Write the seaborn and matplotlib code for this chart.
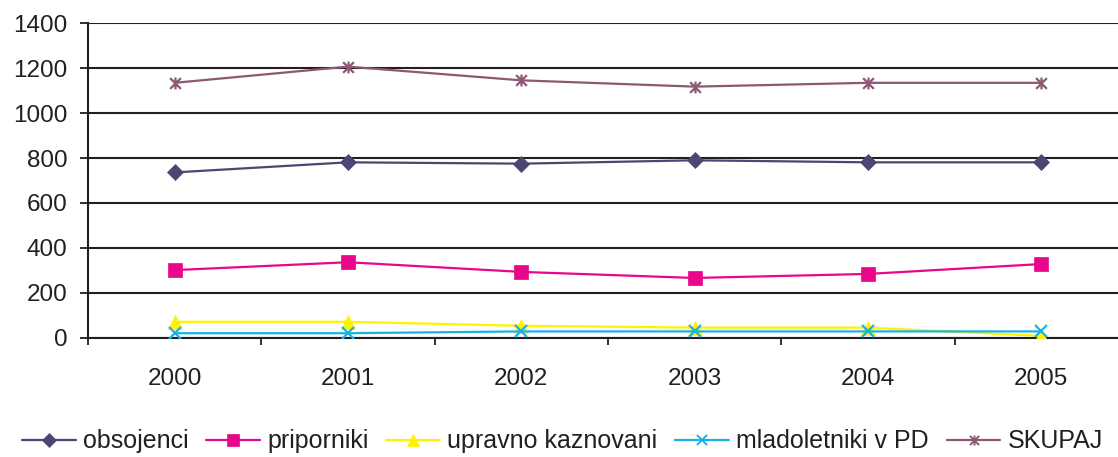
import matplotlib
matplotlib.use("Agg")
import matplotlib.pyplot as plt
from matplotlib.path import Path
from matplotlib.lines import Line2D
import seaborn as sns
import numpy as np

years = ["2000", "2001", "2002", "2003", "2004", "2005"]
obsojenci = [736, 781, 775, 790, 781, 781]
priporniki = [301, 336, 293, 266, 284, 328]
upravno_kaznovani = [71, 71, 53, 45, 45, 8]
mladoletniki_v_pd = [20, 20, 28, 28, 28, 28]
skupaj = [1135, 1207, 1146, 1118, 1135, 1135]

series_names = ["obsojenci", "priporniki", "upravno kaznovani", "mladoletniki v PD", "SKUPAJ"]
series_values = [obsojenci, priporniki, upravno_kaznovani, mladoletniki_v_pd, skupaj]
colors = ["#4a4873", "#e8068a", "#fff200", "#19b2e8", "#8c5873"]

# asterisk marker: vertical bar + X
star = Path([(-0.5, -0.5), (0.5, 0.5), (-0.5, 0.5), (0.5, -0.5), (0, -0.55), (0, 0.55)],
            [Path.MOVETO, Path.LINETO, Path.MOVETO, Path.LINETO, Path.MOVETO, Path.LINETO])
markers = ["D", "s", "^", "x", star]
msizes = [8, 9.5, 10, 9, 8.5]
line_art = [False, False, False, True, True]

sns.set_theme(style="white")
plt.rcParams["font.family"] = ["Liberation Sans", "DejaVu Sans"]

fig = plt.figure(figsize=(11.18, 4.57), dpi=100)
ax = fig.add_axes([88 / 1118, (457 - 337.7) / 457, 1040 / 1118, 314.4 / 457])

x = np.arange(len(years))
for name, vals, c, m, ms, la in zip(series_names, series_values, colors, markers, msizes, line_art):
    sns.lineplot(x=x, y=vals, color=c, marker=m, markersize=ms,
                 markeredgecolor=c, markerfacecolor=c, markeredgewidth=1.6 if la else 0.5,
                 linewidth=1.6, ax=ax, legend=False, zorder=3)

ax.set_xlim(-0.5, len(years) - 0.5)
ax.set_ylim(0, 1400)
ax.set_yticks(np.arange(0, 1401, 200))
ax.yaxis.grid(True, color="#231f20", linewidth=1.5)
ax.set_axisbelow(True)

ax.set_xticks(np.arange(-0.5, len(years), 1.0))
ax.set_xticklabels([])
ax.set_xticks(x, minor=True)
ax.set_xticklabels(years, minor=True)
ax.tick_params(axis="x", which="major", length=5, width=1.3, color="#231f20", direction="out", bottom=True)
ax.tick_params(axis="x", which="minor", length=0, pad=22, labelsize=17.5, labelcolor="#231f20")
ax.tick_params(axis="y", length=5.8, width=1.3, color="#231f20", direction="out", left=True, labelsize=17.5,
               labelcolor="#231f20", pad=9)

for s in ["top", "right"]:
    ax.spines[s].set_visible(False)
for s in ["left", "bottom"]:
    ax.spines[s].set_color("#231f20")
    ax.spines[s].set_linewidth(1.5)

handles = [Line2D([0], [0], color=c, marker=m, markersize=ms * 0.85, markeredgecolor=c, markerfacecolor=c,
                  markeredgewidth=1.4 if la else 0.5, linewidth=1.6)
           for c, m, ms, la in zip(colors, markers, msizes, line_art)]
fig.legend(handles, series_names, loc="center", bbox_to_anchor=(0.503, 0.034), ncol=5, frameon=False,
           fontsize=18, handlelength=2.15, handletextpad=0.28, columnspacing=0.72, labelcolor="#231f20",
           borderpad=0, borderaxespad=0)

fig.savefig("out.png", dpi=100)
